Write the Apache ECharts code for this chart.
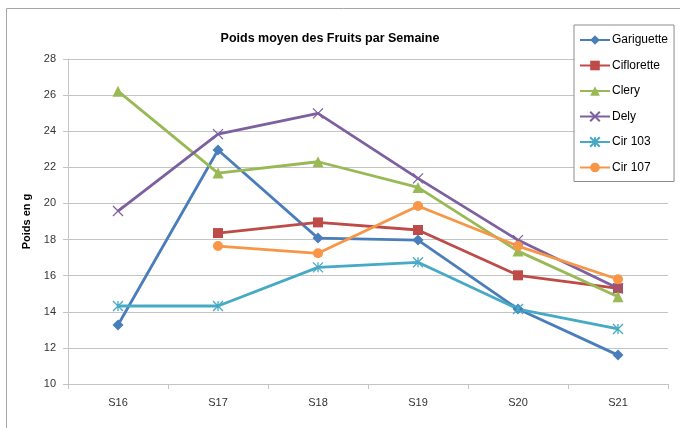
<!DOCTYPE html>
<html>
<head>
<meta charset="utf-8">
<script src="https://cdn.jsdelivr.net/npm/echarts@6/dist/echarts.min.js"></script>
<style>
  html, body { margin: 0; padding: 0; background: #fff; }
  #chart { width: 680px; height: 428px; }
</style>
</head>
<body>
<div id="chart"></div>
<script>
const weeks = ['S16', 'S17', 'S18', 'S19', 'S20', 'S21'];
const gariguette = [13.27, 22.96, 18.08, 17.97, 14.15, 11.6];
const ciflorette = [null, 18.36, 18.95, 18.53, 16.02, 15.3];
const clery = [26.22, 21.68, 22.31, 20.89, 17.36, 14.83];
const dely = [19.58, 23.84, 24.99, 21.39, 17.97, 15.3];
const cir103 = [14.32, 14.32, 16.46, 16.74, 14.15, 13.05];
const cir107 = [null, 17.64, 17.24, 19.86, 17.64, 15.8];

const font = 'Liberation Sans, Arial, sans-serif';
const crossPath = 'path://M0,0L10,10M10,0L0,10';
const starPath = 'path://M0,0L10,10M10,0L0,10M5,0L5,10';
const gridColor = '#c4c4c4';

function serie(name, data, color, symbol, size, stroked) {
    return {
        name: name,
        type: 'line',
        data: data,
        symbol: symbol,
        symbolSize: size,
        lineStyle: {color: color, width: 2.8},
        itemStyle: stroked
            ? {color: color, borderColor: color, borderWidth: 1.3}
            : {color: color},
        emphasis: {disabled: true}
    };
}

const myChart = echarts.init(document.getElementById('chart'));
const option = {
    animation: false,
    textStyle: {fontFamily: font},
    graphic: [{
        type: 'rect',
        shape: {x: 6.5, y: 8.5, width: 690, height: 440},
        style: {fill: 'none', stroke: '#a6a6a6', lineWidth: 1}
    }],
    title: {
        text: 'Poids moyen des Fruits par Semaine',
        left: 325,
        textAlign: 'center',
        top: 27,
        textStyle: {fontSize: 12.5, fontWeight: 'bold', color: '#000', fontFamily: font}
    },
    legend: {
        orient: 'vertical',
        left: 574,
        top: 25,
        padding: [9, 6, 8, 5],
        backgroundColor: '#fff',
        borderColor: '#8c8c8c',
        borderWidth: 1,
        itemWidth: 30,
        itemHeight: 12,
        itemGap: 13.5,
        textStyle: {fontSize: 12, color: '#000', fontFamily: font, padding: [0, 0, 0, -3]},
        data: ['Gariguette', 'Ciflorette', 'Clery', 'Dely', 'Cir 103', 'Cir 107']
    },
    grid: {left: 68, right: 12, top: 59, bottom: 44},
    xAxis: {
        type: 'category',
        data: weeks,
        boundaryGap: true,
        axisLine: {lineStyle: {color: gridColor}},
        axisTick: {show: true, length: 5, lineStyle: {color: gridColor}},
        axisLabel: {fontSize: 11, color: '#333', margin: 13}
    },
    yAxis: {
        type: 'value',
        min: 10,
        max: 28,
        interval: 2,
        name: 'Poids en g',
        nameLocation: 'middle',
        nameGap: 33,
        nameTextStyle: {fontSize: 11, fontWeight: 'bold', color: '#000'},
        axisLine: {show: true, lineStyle: {color: gridColor}},
        axisTick: {show: true, length: 5, lineStyle: {color: gridColor}},
        axisLabel: {fontSize: 11, color: '#333', margin: 12},
        splitLine: {lineStyle: {color: gridColor}}
    },
    series: [
        serie('Gariguette', gariguette, '#4a7ebb', 'diamond', 11, false),
        serie('Ciflorette', ciflorette, '#be4b48', 'rect', 10, false),
        serie('Clery', clery, '#98b954', 'triangle', 11, false),
        serie('Dely', dely, '#7d60a0', crossPath, 10, true),
        serie('Cir 103', cir103, '#46aac5', starPath, 10, true),
        serie('Cir 107', cir107, '#f79646', 'circle', 10, false)
    ]
};
myChart.setOption(option);
</script>
</body>
</html>
